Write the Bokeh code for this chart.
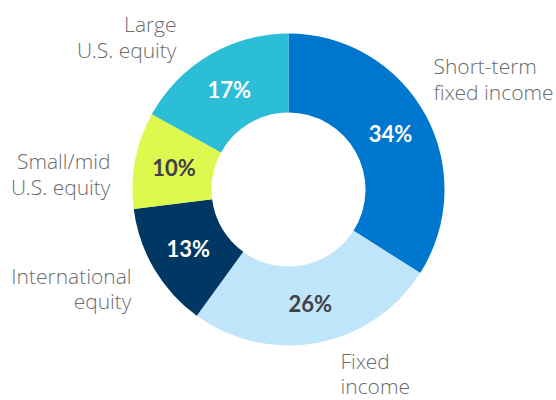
import math
from bokeh.plotting import figure
from bokeh.models import Range1d, ColumnDataSource
from bokeh.core.properties import value
from bokeh.embed import file_html
from bokeh.resources import INLINE

categories = ["Short-term\nfixed income", "Fixed\nincome", "International\nequity",
              "Small/mid\nU.S. equity", "Large\nU.S. equity"]
shares = [34, 26, 13, 10, 17]
pct_labels = ["34%", "26%", "13%", "10%", "17%"]
colors = ["#0077CE", "#BEE5F9", "#003763", "#DDF94E", "#2BBED6"]
pct_colors = ["#FFFFFF", "#414047", "#FFFFFF", "#414047", "#FFFFFF"]

# category label anchors (layout) and alignment
label_x = [433, 340, 131, 110, 176]
label_y = [321.5, 27, 112, 226.5, 363.5]
label_align = ["left", "left", "right", "right", "right"]

cx, cy = 288, 211
r_in, r_out = 77, 156

total = sum(shares)
starts, ends, px, py = [], [], [], []
cum = 0
for s in shares:
    a_end = math.pi / 2 - 2 * math.pi * cum / total
    a_start = math.pi / 2 - 2 * math.pi * (cum + s) / total
    starts.append(a_start)
    ends.append(a_end)
    mid = (a_start + a_end) / 2
    rm = (r_in + r_out) / 2
    px.append(cx + rm * math.cos(mid))
    py.append(cy + rm * math.sin(mid))
    cum += s

src = ColumnDataSource(dict(start=starts, end=ends, color=colors,
                            px=px, py=py, pl=pct_labels, pc=pct_colors))
lab = ColumnDataSource(dict(x=label_x, y=label_y, t=categories, a=label_align))

p = figure(width=556, height=400, output_backend="svg", toolbar_location=None,
           x_range=Range1d(0, 556), y_range=Range1d(0, 400), min_border=0)
p.axis.visible = False
p.grid.visible = False
p.outline_line_color = None

p.annular_wedge(x=cx, y=cy, inner_radius=r_in, outer_radius=r_out,
                start_angle="start", end_angle="end", fill_color="color",
                line_color=None, source=src)

p.text(x="px", y="py", text="pl", text_color="pc", text_font=value("Lato"),
       text_font_style="bold", text_font_size="22px", text_align="center",
       text_baseline="middle", source=src)

p.text(x="x", y="y", text="t", text_align="a", text_color="#6B6B6B",
       text_font=value("Open Sans Light"), text_font_size="21px", text_baseline="middle",
       text_line_height=0.92, source=lab)

open("out.html", "w").write(file_html(p, INLINE))
